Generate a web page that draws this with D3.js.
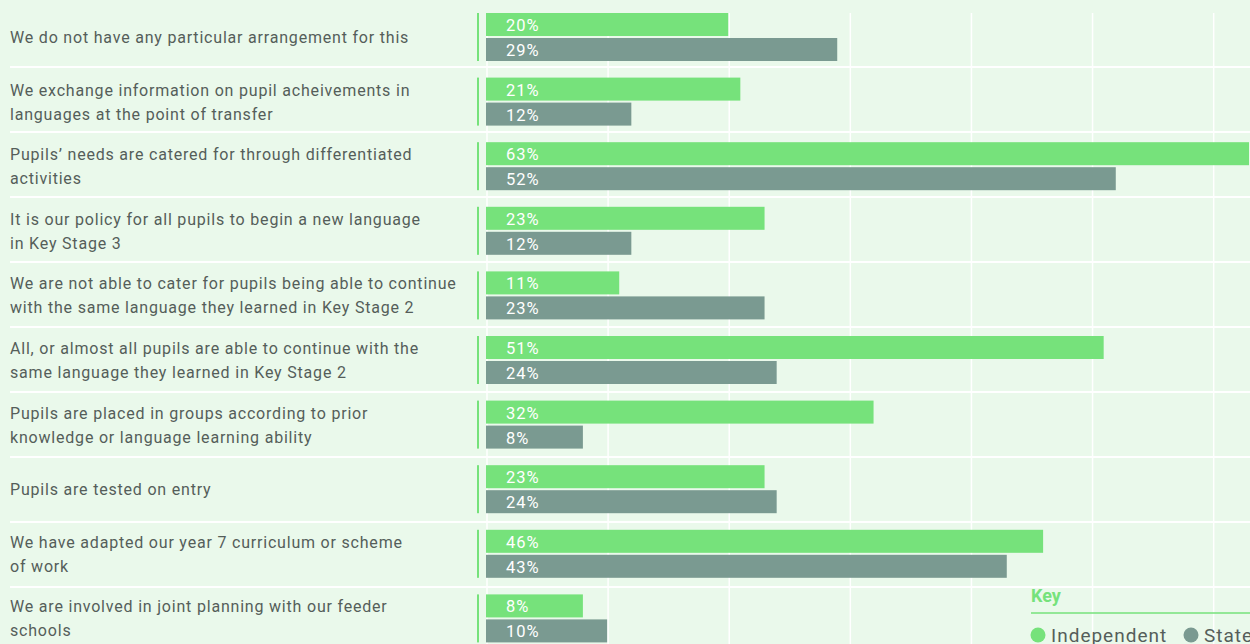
<!DOCTYPE html>
<html><head><meta charset="utf-8">
<script src="https://cdn.jsdelivr.net/npm/d3@7"></script>
<style>
html,body{margin:0;padding:0;background:#eaf9eb;overflow:hidden}
svg{display:block}
</style></head>
<body><svg id="c" width="1250" height="644"></svg>
<script>
const categories = [
  ["We do not have any particular arrangement for this"],
  ["We exchange information on pupil acheivements in", "languages at the point of transfer"],
  ["Pupils’ needs are catered for through differentiated", "activities"],
  ["It is our policy for all pupils to begin a new language", "in Key Stage 3"],
  ["We are not able to cater for pupils being able to continue", "with the same language they learned in Key Stage 2"],
  ["All, or almost all pupils are able to continue with the", "same language they learned in Key Stage 2"],
  ["Pupils are placed in groups according to prior", "knowledge or language learning ability"],
  ["Pupils are tested on entry"],
  ["We have adapted our year 7 curriculum or scheme", "of work"],
  ["We are involved in joint planning with our feeder", "schools"]
];
const independent = [20, 21, 63, 23, 11, 51, 32, 23, 46, 8];
const state = [29, 12, 52, 12, 23, 24, 8, 24, 43, 10];
const gridTicks = [0, 10, 20, 30, 40, 50, 60];
const seriesNames = ["Independent", "State"];

const colors = {Independent: "#76e27b", State: "#7a9a91"};
const textCol = "#555e5a";
const font = "Roboto, 'Noto Sans', sans-serif";

const svg = d3.select("#c");
const idx = d3.range(categories.length);

const x = d3.scaleLinear().domain([0, 63]).range([486, 1249]);
const yBar = d3.scaleBand().domain(idx).range([2, 2 + 64.6 * categories.length]);
const ySep = d3.scaleBand().domain(idx).range([2, 2 + 65 * categories.length]);

// vertical gridlines
svg.append("g").selectAll("line").data(gridTicks).join("line")
  .attr("x1", d => x(d) + 1).attr("x2", d => x(d) + 1)
  .attr("y1", 13).attr("y2", 644)
  .attr("stroke", "#ffffff").attr("stroke-width", 1.5);

// horizontal separators
svg.append("g").selectAll("line").data(idx.slice(0, -1)).join("line")
  .attr("x1", 10).attr("x2", 1250)
  .attr("y1", d => ySep(d) + 65).attr("y2", d => ySep(d) + 65)
  .attr("stroke", "#ffffff").attr("stroke-width", 2);

const rows = svg.append("g").selectAll("g").data(idx).join("g")
  .attr("transform", d => `translate(0,${yBar(d)})`);

// left accent line
rows.append("rect").attr("x", 477).attr("y", 11).attr("width", 2).attr("height", 48)
  .attr("fill", colors.Independent);

// category labels
rows.append("text")
  .attr("x", 10)
  .attr("fill", textCol)
  .style("font-family", font).style("font-size", "16px").style("letter-spacing", "0.8px")
  .each(function(d) {
    const lines = categories[d];
    const t = d3.select(this);
    const base = lines.length === 1 ? 41 : 29;
    lines.forEach((l, i) => t.append("tspan").attr("x", 10).attr("y", base + i * 24).text(l));
  });

const series = [
  {name: "Independent", vals: independent, off: 11},
  {name: "State", vals: state, off: 36}
];
series.forEach(s => {
  rows.append("rect")
    .attr("x", x(0))
    .attr("y", s.off)
    .attr("width", d => x(s.vals[d]) - x(0))
    .attr("height", 23)
    .attr("fill", colors[s.name]);
  rows.append("text")
    .attr("x", 506)
    .attr("y", s.off + 18)
    .attr("fill", "#ffffff")
    .style("font-family", font).style("font-size", "16.5px").style("letter-spacing", "1px")
    .text(d => s.vals[d] + "%");
});

// Key
const key = svg.append("g");
key.append("text").attr("x", 1031).attr("y", 602).text("Key")
  .attr("fill", colors.Independent).style("font-family", font).style("font-size", "18px").style("font-weight", "bold");
key.append("line").attr("x1", 1031).attr("x2", 1250).attr("y1", 613).attr("y2", 613)
  .attr("stroke", colors.Independent).attr("stroke-width", 1.5);
const legX = [1038, 1191];
seriesNames.forEach((n, i) => {
  key.append("circle").attr("cx", legX[i]).attr("cy", 635).attr("r", 7.5).attr("fill", colors[n]);
  key.append("text").attr("x", legX[i] + 13).attr("y", 642).text(n)
    .attr("fill", textCol).style("font-family", font).style("font-size", "19px").style("letter-spacing", "1px");
});
</script>
</body></html>
